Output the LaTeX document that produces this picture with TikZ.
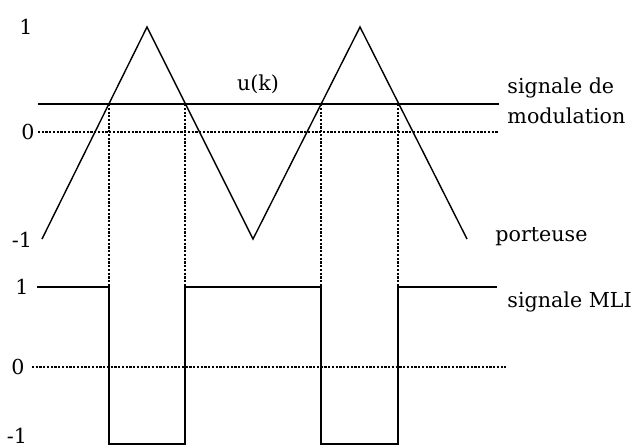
\documentclass[tikz,border=0pt]{standalone}
\usepackage{fontspec}
\setmainfont{DejaVu Serif}
\usepackage{tikz}
\usetikzlibrary{positioning}
\tikzset{
  sig/.style={line width=0.9pt,line join=miter},
  carrier/.style={line width=0.6pt},
  axisdot/.style={line width=0.5pt,dash pattern=on 0.9pt off 0.7pt},
  lvl/.style={font=\fontsize{8.8}{12.8}\selectfont,inner sep=0pt},
  lbl/.style={font=\fontsize{8.8}{12.8}\selectfont,inner sep=0pt,
              align=left,anchor=west},
}

\begin{document}
\begin{tikzpicture}[x=0.15mm,y=-0.15mm]
  \useasboundingbox (0,0) rectangle (634,446);

  % porteuse (triangle)
  \coordinate (c0) at (42,239);
  \coordinate (c1) at (147,27);
  \coordinate (c2) at (253,239);
  \coordinate (c3) at (360,27);
  \coordinate (c4) at (467,239);
  \draw[carrier] (c0) -- (c1) -- (c2) -- (c3) -- (c4);

  % niveaux du haut
  \draw[axisdot] (38,132) -- (499,132);
  \draw[sig] (38,104) -- (499,104);

  % instants de commutation
  \foreach \xx/\nm in {109/a,185/b,321/c,398/d}{
    \coordinate (up\nm) at (\xx,104);
    \coordinate (dn\nm) at (\xx,287);
    \draw[axisdot] (up\nm) -- (dn\nm);
  }

  % signal MLI
  \draw[axisdot] (32,367) -- (506,367);
  \draw[sig] (37,287) -- (dna) -- (109,444) -- (185,444) -- (dnb)
             -- (dnc) -- (321,444) -- (398,444) -- (dnd) -- (497,287);

  % graduations
  \node[lvl] (t1)  at (26,27)   {1};
  \node[lvl] (t0)  at (28,132)  {0};
  \node[lvl] (tm1) at (22,240)  {-1};
  \node[lvl] (b1)  at (22,287)  {1};
  \node[lvl] (b0)  at (18,367)  {0};
  \node[lvl] (bm1) at (17,436)  {-1};

  % legendes
  \node[lvl] (uk) at (258,84) {u(k)};
  \node[lbl] (modul) at (507,101) {signale de\\modulation};
  \node[lbl] (port)  at (495,237) {porteuse};
  \node[lbl] (mli)   at (507,302) {signale MLI};
\end{tikzpicture}
\end{document}
